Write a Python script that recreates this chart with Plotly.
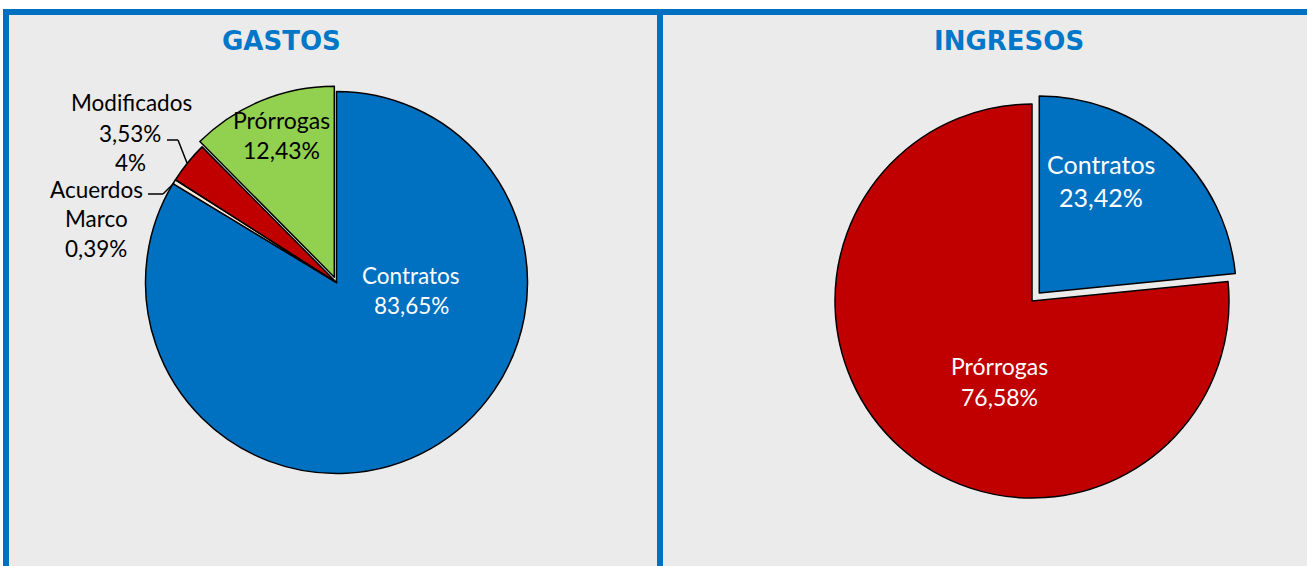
import plotly.graph_objects as go

W, H = 1307, 566

# ---- data ----
gastos_labels = ["Contratos", "Acuerdos Marco", "Modificados", "Prórrogas"]
gastos_values = [83.65, 0.39, 3.53, 12.43]
gastos_colors = ["#0070C0", "#FDE9D9", "#C00000", "#92D050"]
gastos_pull = [0, 0, 0, 0.03]

ingresos_labels = ["Contratos", "Prórrogas"]
ingresos_values = [23.42, 76.58]
ingresos_colors = ["#0070C0", "#C00000"]
ingresos_pull = [0.055, 0]

titles = ["GASTOS", "INGRESOS"]

FONT = "Lato"
BLUE = "#0070C0"


def X(px):
    return px / W


def Y(py):
    return 1 - py / H


def fmt(v):
    return f"{v:.2f}".replace(".", ",") + "%"


def pie_domain(cx, cy, r, pull):
    half = r * (1 + max(pull))
    return dict(x=[X(cx - half), X(cx + half)], y=[Y(cy + half), Y(cy - half)])


fig = go.Figure()
fig.add_trace(go.Pie(
    labels=gastos_labels, values=gastos_values, sort=False,
    direction="clockwise", rotation=0, pull=gastos_pull,
    marker=dict(colors=gastos_colors, line=dict(color="black", width=1.5)),
    textinfo="none", hoverinfo="label+percent", showlegend=False,
    domain=pie_domain(336.5, 282.5, 191, gastos_pull),
))
fig.add_trace(go.Pie(
    labels=ingresos_labels, values=ingresos_values, sort=False,
    direction="clockwise", rotation=0, pull=ingresos_pull,
    marker=dict(colors=ingresos_colors, line=dict(color="black", width=1.5)),
    textinfo="none", hoverinfo="label+percent", showlegend=False,
    domain=pie_domain(1032, 301, 197, ingresos_pull),
))

shapes = [
    dict(type="rect", xref="paper", yref="paper", x0=X(3), x1=X(1307), y0=Y(566), y1=Y(9),
         fillcolor="#EBEBEB", line=dict(width=0), layer="below"),
    dict(type="rect", xref="paper", yref="paper", x0=X(3), x1=X(1307), y0=Y(15), y1=Y(9),
         fillcolor=BLUE, line=dict(width=0), layer="below"),
    dict(type="rect", xref="paper", yref="paper", x0=X(3), x1=X(9), y0=Y(566), y1=Y(9),
         fillcolor=BLUE, line=dict(width=0), layer="below"),
    dict(type="rect", xref="paper", yref="paper", x0=X(657), x1=X(663), y0=Y(566), y1=Y(9),
         fillcolor=BLUE, line=dict(width=0), layer="below"),
]
# leader lines
for pts in ([(167, 140), (178, 140), (187, 163)], [(148, 194), (163, 194), (174, 183)]):
    for (a, b) in zip(pts[:-1], pts[1:]):
        shapes.append(dict(type="line", xref="paper", yref="paper",
                           x0=X(a[0]), y0=Y(a[1]), x1=X(b[0]), y1=Y(b[1]),
                           line=dict(color="black", width=1.5)))

annotations = []


def ann(text, x, y, size, color, bold=False, family=FONT):
    annotations.append(dict(
        text=f"<b>{text}</b>" if bold else text, x=X(x), y=Y(y), xref="paper", yref="paper",
        showarrow=False, xanchor="center", yanchor="middle",
        font=dict(family=family, size=size, color=color)))


ann(titles[0], 281, 41, 26, "#0077C8", bold=True, family="DejaVu Sans")
ann(titles[1], 1009, 41, 26, "#0077C8", bold=True, family="DejaVu Sans")

# left pie labels
ann(gastos_labels[0], 411, 275, 22.5, "white")
ann(fmt(gastos_values[0]), 411, 305, 22.5, "white")
ann(gastos_labels[3], 281, 120, 23, "black")
ann(fmt(gastos_values[3]), 281, 150, 23, "black")
ann(gastos_labels[2], 131, 103, 22.5, "black")
ann(fmt(gastos_values[2]), 130, 133, 22.5, "black")
ann(f"{round(gastos_values[2])}%", 130, 162, 22.5, "black")
ann("Acuerdos", 96, 190, 22.5, "black")
ann("Marco", 96, 219, 22.5, "black")
ann(fmt(gastos_values[1]), 96, 248, 22.5, "black")

# right pie labels
ann(ingresos_labels[0], 1101, 164, 25, "white")
ann(fmt(ingresos_values[0]), 1101, 197, 25, "white")
ann(ingresos_labels[1], 999, 366, 23, "white")
ann(fmt(ingresos_values[1]), 999, 397, 23, "white")

fig.update_layout(
    width=W, height=H, margin=dict(l=0, r=0, t=0, b=0),
    paper_bgcolor="white", plot_bgcolor="white",
    shapes=shapes, annotations=annotations, showlegend=False,
)
fig.write_html("out.html", config={"displayModeBar": False},
               post_script="document.body.style.margin='0';document.body.style.overflow='hidden';")
